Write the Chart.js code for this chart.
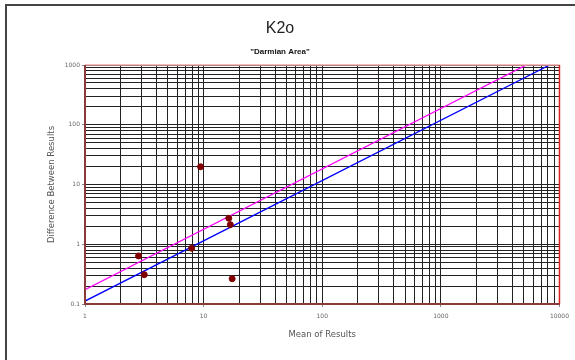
<!DOCTYPE html>
<html>
<head>
<meta charset="utf-8">
<script src="https://cdn.jsdelivr.net/npm/chart.js@4"></script>
<style>
  html,body{margin:0;padding:0;background:#fff}
  #wrap{width:575px;height:360px}
</style>
</head>
<body>
<div id="wrap"><canvas id="myChart" width="575" height="360"></canvas></div>
<script>
// ─── DATA ───
const meanValues = [2.83, 3.16, 7.92, 9.43, 16.3, 16.8, 17.4];
const diffValues = [0.637, 0.31, 0.857, 19.8, 2.72, 2.13, 0.265];
const upperLineX = [1, 5260];
const upperLineY = [0.174, 1000];
const lowerLineX = [1, 8270];
const lowerLineY = [0.112, 1000];
const xTickLabels = [1, 10, 100, 1000, 10000];
const yTickLabels = [0.1, 1, 10, 100, 1000];

// every 1..9 multiple inside each labelled decade -> one grid line
function gridValues(decades) {
  const out = [];
  decades.forEach((d, i) => {
    if (i === decades.length - 1) { out.push(d); return; }
    for (let m = 1; m < 10; m++) out.push(d * m);
  });
  return out;
}

const pts = meanValues.map((x, i) => ({x, y: diffValues[i]}));
const upper = upperLineX.map((x, i) => ({x, y: upperLineY[i]}));
const lower = lowerLineX.map((x, i) => ({x, y: lowerLineY[i]}));

const tickFont = {family:'DejaVu Sans', size:6};
const titleFont = {family:'DejaVu Sans', size:8.5};

const framePlugin = {
  id:'frame',
  beforeDraw(chart) {
    const c = chart.ctx;
    c.save();
    c.fillStyle = '#fff';
    c.fillRect(0, 0, chart.width, chart.height);
    c.restore();
  },
  afterDraw(chart) {
    const c = chart.ctx, a = chart.chartArea;
    c.save();
    // outer frame (only top + left visible)
    c.strokeStyle = '#444'; c.lineWidth = 2;
    c.beginPath();
    c.moveTo(6, 360); c.lineTo(6, 5); c.lineTo(575, 5);
    c.stroke();
    // plot border
    c.lineWidth = 1.5;
    c.strokeStyle = '#f2a3a3';
    c.beginPath(); c.moveTo(a.left, a.top); c.lineTo(a.right, a.top); c.stroke();
    c.strokeStyle = '#dd2020';
    c.beginPath(); c.moveTo(a.right, a.top); c.lineTo(a.right, a.bottom); c.stroke();
    c.lineWidth = 2;
    c.strokeStyle = '#8b3a3a';
    c.beginPath(); c.moveTo(a.left, a.top); c.lineTo(a.left, a.bottom); c.lineTo(a.right, a.bottom); c.stroke();
    c.restore();
  }
};

new Chart(document.getElementById('myChart').getContext('2d'), {
  type:'scatter',
  data:{datasets:[
    {label:'results', data:pts, backgroundColor:'#800000', borderColor:'#800000',
     pointRadius:3, pointHoverRadius:3, order:0},
    {label:'upper', data:upper, showLine:true, borderColor:'#ff00ff', borderWidth:1.3,
     pointRadius:0, fill:false, order:1},
    {label:'lower', data:lower, showLine:true, borderColor:'#0000ff', borderWidth:1.3,
     pointRadius:0, fill:false, order:1}
  ]},
  options:{
    responsive:false, animation:false,
    layout:{padding:{left:0, right:15, top:0, bottom:0}},
    plugins:{
      legend:{display:false},
      tooltip:{enabled:false},
      title:{display:true, text:'K2o', color:'#222',
        font:{family:'Liberation Sans', size:16, weight:'normal'}, padding:{top:19, bottom:9}},
      subtitle:{display:true, text:'"Darmian Area"', color:'#111',
        font:{family:'Liberation Sans', size:8, weight:'bold'}, padding:{top:0, bottom:8.2}}
    },
    scales:{
      x:{
        type:'logarithmic', min:1, max:10000,
        afterBuildTicks:s=>{ s.ticks = gridValues(xTickLabels).map(v=>({value:v})); },
        afterFit:s=>{ s.height = 56; },
        ticks:{autoSkip:false, maxRotation:0, color:'#666', font:tickFont, padding:6,
          callback:v=>xTickLabels.includes(v) ? String(v) : ''},
        grid:{color:'#222', lineWidth:1, tickLength:3,
          tickColor:ctx=>xTickLabels.includes(ctx.tick && ctx.tick.value) ? '#888' : 'rgba(0,0,0,0)'},
        border:{display:false},
        title:{display:true, text:'Mean of Results', color:'#555', font:titleFont, padding:{top:0, bottom:20}}
      },
      y:{
        type:'logarithmic', min:0.1, max:1000,
        afterBuildTicks:s=>{ s.ticks = gridValues(yTickLabels).map(v=>({value:v})); },
        afterFit:s=>{ s.width = 85; },
        ticks:{autoSkip:false, color:'#666', font:tickFont, padding:2,
          callback:v=>yTickLabels.includes(v) ? String(v) : ''},
        grid:{color:'#222', lineWidth:1, tickLength:3,
          tickColor:ctx=>yTickLabels.includes(ctx.tick && ctx.tick.value) ? '#888' : 'rgba(0,0,0,0)'},
        border:{display:false},
        title:{display:true, text:'Difference Between Results', color:'#555', font:titleFont, padding:{top:47, bottom:0}}
      }
    }
  },
  plugins:[framePlugin]
});
</script>
</body>
</html>
